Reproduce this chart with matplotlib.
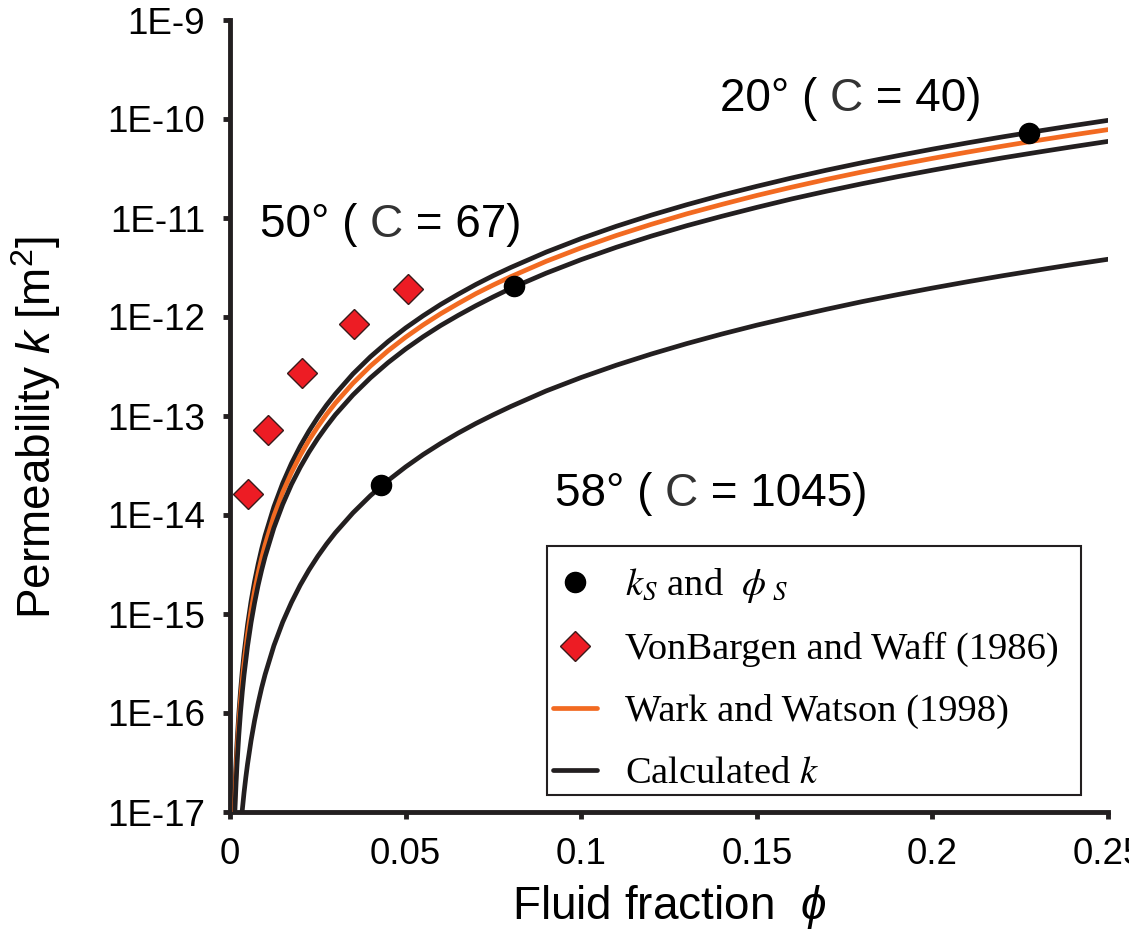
import matplotlib
matplotlib.use("Agg")
import matplotlib.pyplot as plt
from matplotlib.ticker import FixedLocator, FixedFormatter, NullLocator
from matplotlib.lines import Line2D
from matplotlib.patches import Rectangle

plt.rcParams['font.family'] = ['Liberation Sans', 'DejaVu Sans']
plt.rcParams['mathtext.fontset'] = 'custom'
plt.rcParams['mathtext.rm'] = 'Liberation Sans'
plt.rcParams['mathtext.it'] = 'Liberation Sans:italic'

# ---------------- data ----------------
phi_grid = [0.0011, 0.0013, 0.0015, 0.00175, 0.002, 0.0025, 0.003, 0.0035, 0.004, 0.005,
            0.006, 0.007, 0.008, 0.009, 0.01, 0.0125, 0.015, 0.0175, 0.02, 0.0225,
            0.025, 0.0275, 0.03, 0.035, 0.04, 0.045, 0.05, 0.055, 0.06, 0.065,
            0.07, 0.075, 0.08, 0.09, 0.1, 0.11, 0.12, 0.13, 0.14, 0.15,
            0.16, 0.17, 0.18, 0.19, 0.2, 0.21, 0.22, 0.23, 0.24, 0.25]

# calculated k, 20 deg (C = 40)
k_20deg = [8.25e-18, 1.36e-17, 2.09e-17, 3.32e-17, 4.96e-17, 9.69e-17, 1.67e-16, 2.66e-16, 3.97e-16, 7.75e-16,
           1.34e-15, 2.13e-15, 3.17e-15, 4.52e-15, 6.2e-15, 1.21e-14, 2.09e-14, 3.32e-14, 4.96e-14, 7.06e-14,
           9.69e-14, 1.29e-13, 1.67e-13, 2.66e-13, 3.97e-13, 5.65e-13, 7.75e-13, 1.03e-12, 1.34e-12, 1.70e-12,
           2.13e-12, 2.62e-12, 3.17e-12, 4.52e-12, 6.2e-12, 8.25e-12, 1.07e-11, 1.36e-11, 1.70e-11, 2.09e-11,
           2.54e-11, 3.05e-11, 3.62e-11, 4.25e-11, 4.96e-11, 5.74e-11, 6.60e-11, 7.54e-11, 8.57e-11, 9.69e-11]

# Wark and Watson (1998)
k_wark = [6.66e-18, 1.10e-17, 1.69e-17, 2.68e-17, 4.0e-17, 7.81e-17, 1.35e-16, 2.14e-16, 3.2e-16, 6.25e-16,
          1.08e-15, 1.72e-15, 2.56e-15, 3.65e-15, 5.0e-15, 9.77e-15, 1.69e-14, 2.68e-14, 4.0e-14, 5.70e-14,
          7.81e-14, 1.04e-13, 1.35e-13, 2.14e-13, 3.2e-13, 4.56e-13, 6.25e-13, 8.32e-13, 1.08e-12, 1.37e-12,
          1.72e-12, 2.11e-12, 2.56e-12, 3.65e-12, 5.0e-12, 6.66e-12, 8.64e-12, 1.10e-11, 1.37e-11, 1.69e-11,
          2.05e-11, 2.46e-11, 2.92e-11, 3.43e-11, 4.0e-11, 4.63e-11, 5.32e-11, 6.08e-11, 6.91e-11, 7.81e-11]

# calculated k, 50 deg (C = 67)
k_50deg = [5.06e-18, 8.35e-18, 1.28e-17, 2.04e-17, 3.04e-17, 5.94e-17, 1.03e-16, 1.63e-16, 2.43e-16, 4.75e-16,
           8.21e-16, 1.30e-15, 1.95e-15, 2.77e-15, 3.8e-15, 7.42e-15, 1.28e-14, 2.04e-14, 3.04e-14, 4.33e-14,
           5.94e-14, 7.90e-14, 1.03e-13, 1.63e-13, 2.43e-13, 3.46e-13, 4.75e-13, 6.32e-13, 8.21e-13, 1.04e-12,
           1.30e-12, 1.60e-12, 1.95e-12, 2.77e-12, 3.8e-12, 5.06e-12, 6.57e-12, 8.35e-12, 1.04e-11, 1.28e-11,
           1.56e-11, 1.87e-11, 2.22e-11, 2.61e-11, 3.04e-11, 3.52e-11, 4.05e-11, 4.62e-11, 5.25e-11, 5.94e-11]

# calculated k, 58 deg (C = 1045)
phi_grid_58 = [0.003, 0.0035, 0.004, 0.0045, 0.005, 0.006, 0.007, 0.008, 0.009, 0.01,
               0.0125, 0.015, 0.0175, 0.02, 0.0225, 0.025, 0.0275, 0.03, 0.035, 0.04,
               0.045, 0.05, 0.055, 0.06, 0.065, 0.07, 0.075, 0.08, 0.09, 0.1,
               0.11, 0.12, 0.13, 0.14, 0.15, 0.16, 0.17, 0.18, 0.19, 0.2,
               0.21, 0.22, 0.23, 0.24, 0.25]
k_58deg = [6.62e-18, 1.05e-17, 1.57e-17, 2.23e-17, 3.06e-17, 5.29e-17, 8.40e-17, 1.25e-16, 1.79e-16, 2.45e-16,
           4.79e-16, 8.27e-16, 1.31e-15, 1.96e-15, 2.79e-15, 3.83e-15, 5.10e-15, 6.62e-15, 1.05e-14, 1.57e-14,
           2.23e-14, 3.06e-14, 4.08e-14, 5.29e-14, 6.73e-14, 8.40e-14, 1.03e-13, 1.25e-13, 1.79e-13, 2.45e-13,
           3.26e-13, 4.23e-13, 5.38e-13, 6.72e-13, 8.27e-13, 1.00e-12, 1.20e-12, 1.43e-12, 1.68e-12, 1.96e-12,
           2.27e-12, 2.61e-12, 2.98e-12, 3.39e-12, 3.83e-12]

phi_s = [0.0430, 0.0809, 0.2275]
k_s = [2.0e-14, 2.05e-12, 7.3e-11]

phi_vbw = [0.0051, 0.0108, 0.0205, 0.0354, 0.0506]
k_vbw = [1.63e-14, 7.2e-14, 2.7e-13, 8.5e-13, 1.9e-12]

y_ticks = [1e-17, 1e-16, 1e-15, 1e-14, 1e-13, 1e-12, 1e-11, 1e-10, 1e-9]
y_tick_labels = ["1E-17", "1E-16", "1E-15", "1E-14", "1E-13", "1E-12", "1E-11", "1E-10", "1E-9"]
x_ticks = [0, 0.05, 0.1, 0.15, 0.2, 0.25]
x_tick_labels = ["0", "0.05", "0.1", "0.15", "0.2", "0.25"]

# angle label, C value, anchor (phi, k) of the label's lower-left corner
annotations = [("20°", "40", 0.1395, 9.6e-11),
               ("50°", "67", 0.0085, 5.1e-12),
               ("58°", "1045", 0.0925, 9.8e-15)]

legend_labels = [r"$k_S$ and  $\phi_{\ S}$", "VonBargen and Waff (1986)",
                 "Wark and Watson (1998)", r"Calculated $k$"]

# ---------------- figure ----------------
W, H = 1129, 936
fig = plt.figure(figsize=(W / 100, H / 100), dpi=100)
ax = fig.add_axes([230 / W, 1 - 812 / H, (1108 - 230) / W, (812 - 20) / H])

black = '#231f20'
orange = '#f26a21'
red = '#ed1c24'
grey_c = '#333333'

lw = 3.4
ax.plot(phi_grid, k_20deg, color=black, lw=lw, solid_capstyle='round', zorder=3)
ax.plot(phi_grid, k_wark, color=orange, lw=lw, solid_capstyle='round', zorder=3)
ax.plot(phi_grid, k_50deg, color=black, lw=lw, solid_capstyle='round', zorder=3)
ax.plot(phi_grid_58, k_58deg, color=black, lw=lw, solid_capstyle='round', zorder=3)

ax.plot(phi_s, k_s, 'o', color='black', ms=14.5, zorder=5)
ax.plot(phi_vbw, k_vbw, 'D', color=red, mec='#3a1a1a', mew=1.0, ms=15, zorder=5)

ax.set_yscale('log')
ax.set_xlim(0, 0.25)
ax.set_ylim(1e-17, 1e-9)

ax.yaxis.set_major_locator(FixedLocator(y_ticks))
ax.yaxis.set_major_formatter(FixedFormatter(y_tick_labels))
ax.yaxis.set_minor_locator(NullLocator())
ax.xaxis.set_major_locator(FixedLocator(x_ticks))
ax.xaxis.set_major_formatter(FixedFormatter(x_tick_labels))

for s in ['top', 'right']:
    ax.spines[s].set_visible(False)
for s in ['left', 'bottom']:
    ax.spines[s].set_linewidth(3.5)
    ax.spines[s].set_color(black)
    ax.spines[s].set_capstyle('projecting')

ax.tick_params(axis='both', which='major', direction='out', length=5, width=3.5,
               color=black, labelsize=26.5, pad=13)

ax.set_xlabel(r"Fluid fraction  $\phi$", fontsize=33)
ax.set_ylabel(r"Permeability $k$ [m$^2$]", fontsize=33)
ax.xaxis.set_label_coords(0.5, -0.09)
ax.yaxis.set_label_coords(-0.19, 0.485)

# annotations: "NN° ( C = NN)" with a dark grey C, pieces chained left to right
for ang, cval, x, y in annotations:
    t1 = ax.text(x, y, ang + " ( ", fontsize=33, ha='left', va='bottom', zorder=6)
    t2 = ax.annotate("C", xy=(1, 0), xycoords=t1, fontsize=33, ha='left', va='bottom',
                     color=grey_c, zorder=6)
    ax.annotate(" = " + cval + ")", xy=(1, 0), xycoords=t2, fontsize=33, ha='left',
                va='bottom', zorder=6)

# legend frame drawn separately so the padding can match the reference
ax.add_patch(Rectangle((547 / W, 1 - 795 / H), (1081 - 547) / W, (795 - 546) / H,
                       transform=fig.transFigure, facecolor='white', edgecolor=black,
                       lw=1.5, zorder=4.5, clip_on=False))

handles = [
    Line2D([], [], marker='o', ls='none', color='black', ms=14.5),
    Line2D([], [], marker='D', ls='none', color=red, mec='#3a1a1a', mew=1.0, ms=15),
    Line2D([], [], color=orange, lw=lw, solid_capstyle='round'),
    Line2D([], [], color=black, lw=lw, solid_capstyle='round'),
]
leg = ax.legend(handles, legend_labels, loc='upper left',
                bbox_to_anchor=(553 / W, 1 - 566 / H), bbox_transform=fig.transFigure,
                frameon=False,
                prop={'family': 'Liberation Serif', 'size': 27.7},
                handlelength=1.15, handletextpad=0.72, borderpad=0.0,
                labelspacing=0.7, borderaxespad=0)
leg.set_zorder(6)
for t in leg.get_texts():
    t.set_math_fontfamily('stix')

fig.savefig('out.png', dpi=100)
